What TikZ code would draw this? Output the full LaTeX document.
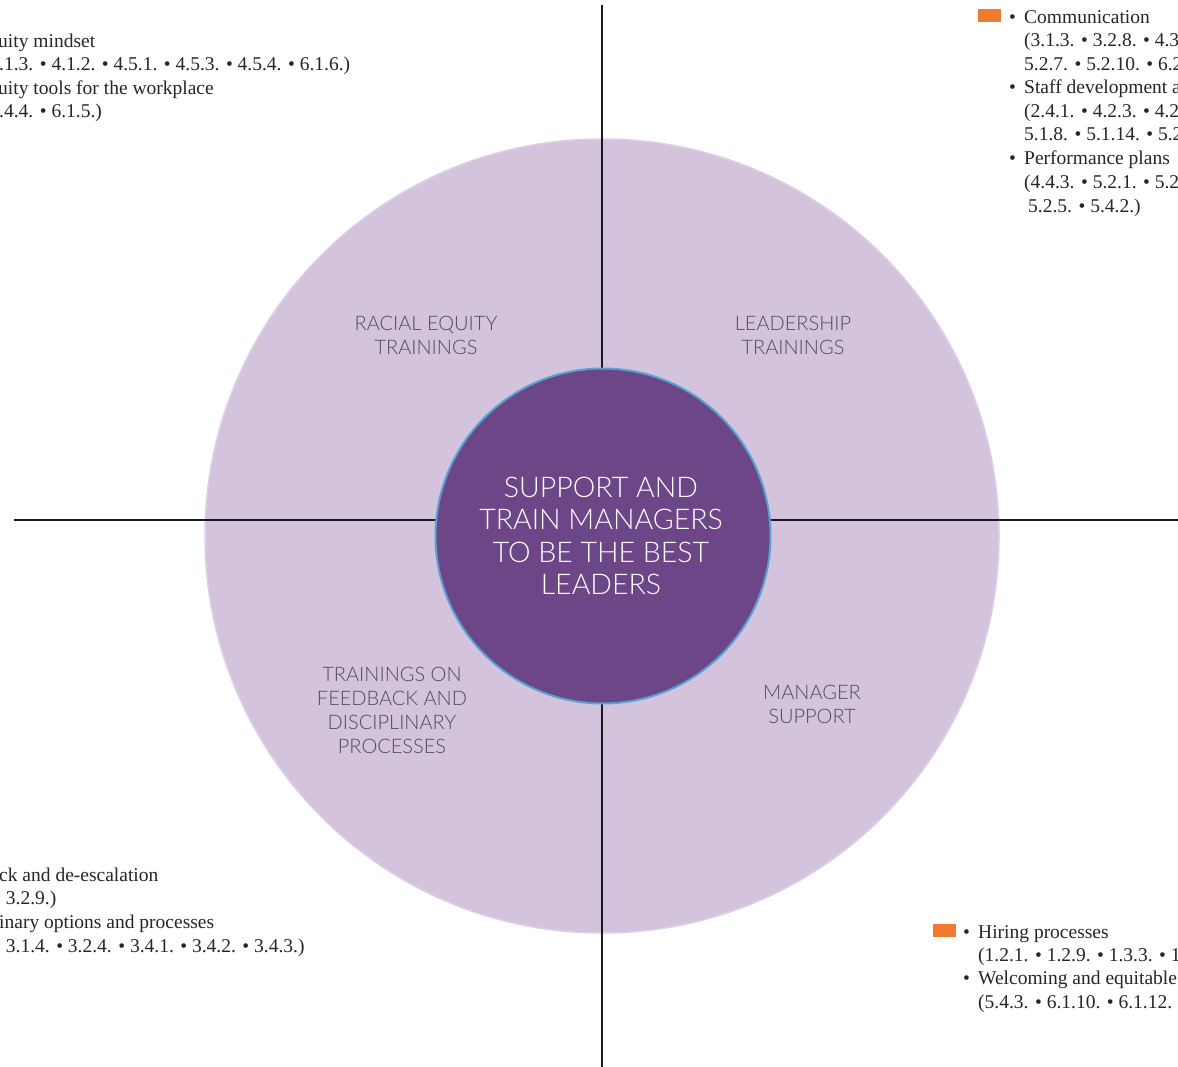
\documentclass[tikz,border=0pt]{standalone}
\usepackage{fontspec}
\setmainfont{Liberation Serif}
\newfontfamily\lab{Lato Light}
\definecolor{lav}{HTML}{D4C3DC}
\definecolor{lavedge}{HTML}{DDD0E4}
\definecolor{deep}{HTML}{6C4687}
\definecolor{ringblue}{HTML}{55A2D2}
\definecolor{orng}{HTML}{F07B2F}
\definecolor{labgray}{HTML}{4F4F4F}
\definecolor{axis}{HTML}{1A1A1A}
\begin{document}
\begin{tikzpicture}[x=1pt,y=-1pt,
  serif/.style={font=\fontsize{19.5}{23.5}\selectfont, anchor=base west, inner sep=0pt, text=black!85},
  quad/.style={font=\lab\fontsize{20}{24}\selectfont, align=center, text=labgray, inner sep=0pt},
  ctr/.style={font=\lab\fontsize{28.5}{32.5}\selectfont, align=center, text=white, inner sep=0pt},
  axisline/.style={draw=axis, line width=2.4pt},
  swatch/.style={fill=orng, draw=none, minimum width=23pt, minimum height=13pt, inner sep=0pt}]
\useasboundingbox (0,0) rectangle (1178,1067);
\fill[white] (0,0) rectangle (1178,1067);

% outer disc
\node[circle, fill=lav, draw=lavedge, line width=1.5pt, minimum size=794pt, inner sep=0pt] (outer) at (602,536) {};

% axes
\coordinate (vtop) at (602,5);
\coordinate (vbot) at (602,1067);
\coordinate (hleft) at (14,520);
\coordinate (hright) at (1178,520);
\draw[axisline] (vtop) -- (vbot);
\draw[axisline] (hleft) -- (hright);

% inner disc
\node[circle, fill=deep, draw=ringblue, line width=2pt, minimum size=335pt, inner sep=0pt] (inner) at (603,536) {};
\node[ctr] (ctext) at (601,536) {SUPPORT AND\\TRAIN MANAGERS\\TO BE THE BEST\\LEADERS};

% quadrant labels
\node[quad] (q1) at (426,335) {RACIAL EQUITY\\TRAININGS};
\node[quad] (q2) at (793,335) {LEADERSHIP\\TRAININGS};
\node[quad] (q3) at (392,710) {TRAININGS ON\\FEEDBACK AND\\DISCIPLINARY\\PROCESSES};
\node[quad] (q4) at (812,704) {MANAGER\\SUPPORT};

% top-left text
\node[serif] (tl1) at (-2,48) {uity mindset};
\node[serif] (tl2) at (-1,71) {.1.3. • 4.1.2. • 4.5.1. • 4.5.3. • 4.5.4. • 6.1.6.)};
\node[serif] (tl3) at (-2,95) {uity tools for the workplace};
\node[serif] (tl4) at (-1,118) {.4.4. • 6.1.5.)};

% top-right text
\node[swatch] (sw1) at (989,16) {};
\node[serif] (trb1) at (1009,24) {•};
\node[serif] (tr1) at (1024,24) {Communication};
\node[serif] (tr2) at (1024,47) {(3.1.3. • 3.2.8. • 4.3.};
\node[serif] (tr3) at (1024,71) {5.2.7. • 5.2.10. • 6.2};
\node[serif] (trb2) at (1009,94) {•};
\node[serif] (tr4) at (1024,94) {Staff development a};
\node[serif] (tr5) at (1024,118) {(2.4.1. • 4.2.3. • 4.2.};
\node[serif] (tr6) at (1024,141) {5.1.8. • 5.1.14. • 5.2};
\node[serif] (trb3) at (1009,165) {•};
\node[serif] (tr7) at (1024,165) {Performance plans};
\node[serif] (tr8) at (1024,189) {(4.4.3. • 5.2.1. • 5.2.};
\node[serif] (tr9) at (1028,213) {5.2.5. • 5.4.2.)};

% bottom-left text
\node[serif] (bl1) at (-1,881) {ck and de-escalation};
\node[serif] (bl2) at (-6,904) {• 3.2.9.)};
\node[serif] (bl3) at (-1,928) {inary options and processes};
\node[serif] (bl4) at (-6,952) {• 3.1.4. • 3.2.4. • 3.4.1. • 3.4.2. • 3.4.3.)};

% bottom-right text
\node[swatch] (sw2) at (944,930) {};
\node[serif] (brb1) at (963,938) {•};
\node[serif] (br1) at (978,938) {Hiring processes};
\node[serif] (br2) at (978,961) {(1.2.1. • 1.2.9. • 1.3.3. • 1.};
\node[serif] (brb2) at (963,984) {•};
\node[serif] (br3) at (978,984) {Welcoming and equitable};
\node[serif] (br4) at (978,1008) {(5.4.3. • 6.1.10. • 6.1.12. •};
\end{tikzpicture}
\end{document}
